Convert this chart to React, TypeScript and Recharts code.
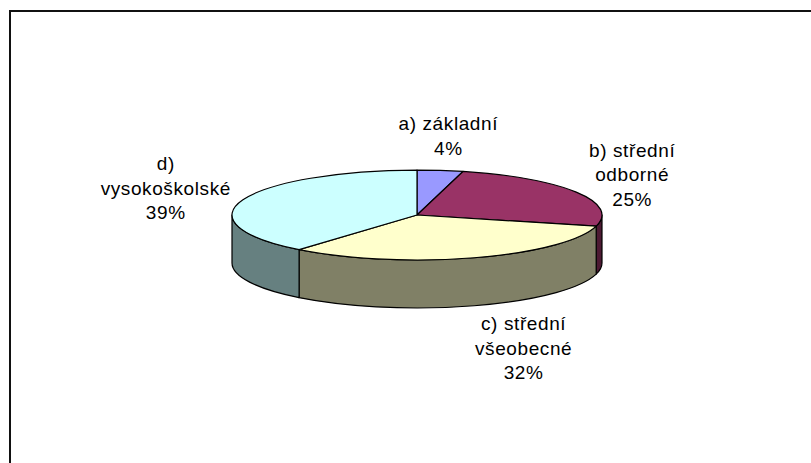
import React from 'react';
import { PieChart, Pie, Cell } from 'recharts';

const CATEGORIES: string[][] = [
  ['a) základní'],
  ['b) střední', 'odborné'],
  ['c) střední', 'všeobecné'],
  ['d)', 'vysokoškolské'],
];
const VALUES = [4, 25, 32, 39];

const TOP_COLORS = ['#9999FF', '#993366', '#FFFFCC', '#CCFFFF'];
const SIDE_COLORS = ['#4D4D80', '#4D1A33', '#808066', '#668080'];

const data = VALUES.map((v, i) => ({ name: CATEGORIES[i].join(' '), value: v }));

const TILT = 0.243;
const DEPTH = 48;
const RAD = Math.PI / 180;

function proj(cx: number, cy: number, r: number, a: number): [number, number] {
  return [cx + r * Math.cos(a * RAD), cy - r * TILT * Math.sin(a * RAD)];
}

function Slice3D(props: any) {
  const { cx, cy, outerRadius: r, startAngle, endAngle, fill } = props;
  let idx = TOP_COLORS.indexOf(fill);
  if (idx < 0) idx = props.index ?? 0;
  const s = Math.max(startAngle, endAngle);
  const e = Math.min(startAngle, endAngle);
  const ry = r * TILT;
  const ps = proj(cx, cy, r, s);
  const pe = proj(cx, cy, r, e);
  const large = s - e > 180 ? 1 : 0;
  const top = `M${cx},${cy} L${ps[0]},${ps[1]} A${r},${ry} 0 ${large} 1 ${pe[0]},${pe[1]} Z`;
  const a1 = Math.min(s, 0);
  const a2 = Math.max(e, -180);
  let side: string | null = null;
  if (a1 > a2) {
    const p1 = proj(cx, cy, r, a1);
    const p2 = proj(cx, cy, r, a2);
    side = `M${p1[0]},${p1[1]} A${r},${ry} 0 0 1 ${p2[0]},${p2[1]} L${p2[0]},${p2[1] + DEPTH} A${r},${ry} 0 0 0 ${p1[0]},${p1[1] + DEPTH} Z`;
  }
  return (
    <g>
      {side && <path d={side} fill={SIDE_COLORS[idx]} stroke="#000" strokeWidth={1.2} strokeLinejoin="round" />}
      <path d={top} fill={TOP_COLORS[idx]} stroke="#000" strokeWidth={1.2} strokeLinejoin="round" />
    </g>
  );
}

function renderLabel(props: any) {
  const { cx, cy, percent, index } = props;
  const mid = props.midAngle ?? (props.startAngle + props.endAngle) / 2;
  const c = Math.cos(mid * RAD);
  const sn = Math.sin(mid * RAD);
  const front = sn < 0;
  const Rx = front ? 345 : c >= 0 ? 250 : 267;
  const Ry = front ? 89 : 80;
  const x = cx + Rx * c;
  const y = cy - Ry * sn + (front ? DEPTH : 0);
  const lines = [...CATEGORIES[index], `${Math.round(percent * 100)}%`];
  const lh = 24.5;
  const first = y - ((lines.length - 1) * lh) / 2 + 7;
  return (
    <g key={`lbl-${index}`}>
      {lines.map((t, i) => (
        <text
          key={i}
          x={x}
          y={first + i * lh}
          textAnchor="middle"
          fontFamily="'Liberation Sans', Arial, sans-serif"
          fontSize={19}
          letterSpacing={0.6}
          fill="#000"
        >
          {t}
        </text>
      ))}
    </g>
  );
}

export default function App() {
  return (
    <div style={{ position: 'absolute', left: 0, top: 0, width: 811, height: 463, background: '#fff', overflow: 'hidden' }}>
      <div
        style={{
          position: 'absolute',
          left: 9,
          top: 10,
          width: 811,
          height: 463,
          borderTop: '2px solid #111',
          borderLeft: '2px solid #111',
        }}
      />
      <div style={{ position: 'absolute', left: 0, top: 0 }}>
        <PieChart width={811} height={463} margin={{ top: 0, right: 0, bottom: 0, left: 0 }}>
          <Pie
            data={data}
            dataKey="value"
            nameKey="name"
            cx={417}
            cy={215}
            outerRadius={185}
            startAngle={90}
            endAngle={-270}
            isAnimationActive={false}
            shape={Slice3D}
            label={renderLabel}
            labelLine={false}
            stroke="#000"
          >
            {VALUES.map((_, i) => (
              <Cell key={i} fill={TOP_COLORS[i]} />
            ))}
          </Pie>
        </PieChart>
      </div>
    </div>
  );
}
